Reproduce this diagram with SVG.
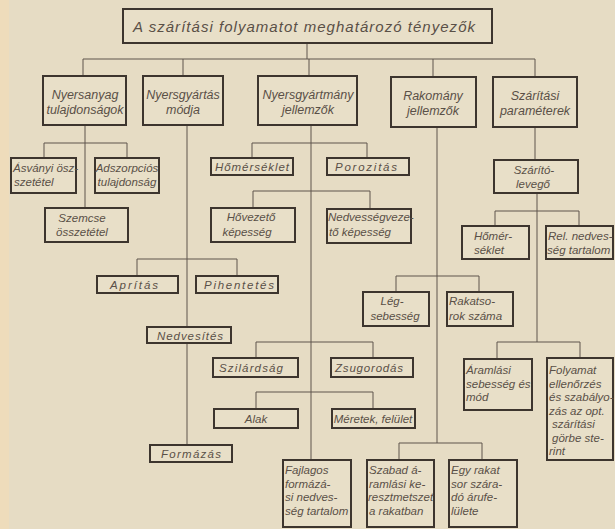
<svg xmlns="http://www.w3.org/2000/svg" width="615" height="529" viewBox="0 0 615 529">
<style>
.bx{fill:#e8dfc8;stroke:#3d352e;stroke-width:2}
.cn{fill:none;stroke:#5e554c;stroke-width:1}
text{font-family:"Liberation Sans","DejaVu Sans",sans-serif;font-style:italic;font-size:11.5px;fill:#5a5047}
.m{text-anchor:middle}
.h{font-size:12.5px}
.tt{font-size:15px}
</style>
<rect x="0" y="0" width="615" height="529" fill="#e6dcc4"/>
<rect x="0" y="0" width="9" height="529" fill="#eedcbb"/>
<g id="connectors" class="cn">
<path d="M307 43V59M83 59H535M83 59V76M183 59V76M309 59V76M433 59V77M535 59V77"/>
<path d="M85 125V208M44 143H127M44 143V158M127 143V158"/>
<path d="M187 125V327M187 343V445M137 259H237M137 259V276M237 259V276"/>
<path d="M311 125V460M252 143H367M252 143V158M367 143V158M253 191H370M253 191V208M370 191V209M256 342H373M256 342V358M373 342V358M256 392H373M256 392V409M373 392V409"/>
<path d="M437 127V443M396 276H479M396 276V292M479 276V292M399 443H482M399 443V459M482 443V459"/>
<path d="M535 127V160M537 193V342M495 211H579M495 211V226M579 211V226M497 342H580M497 342V359M580 342V358"/>
</g>
<g id="title"><rect class="bx" x="123" y="9" width="369" height="34"/><text class="tt" x="133" y="32" textLength="342" lengthAdjust="spacing">A szárítási folyamatot meghatározó tényezők</text></g>
<g id="n-nyersanyag"><rect class="bx" x="43" y="76" width="83" height="49"/><text class="h m" x="85" y="99">Nyersanyag</text><text class="h m" x="85" y="114">tulajdonságok</text></g>
<g id="n-nyersgyartas"><rect class="bx" x="143" y="76" width="80" height="49"/><text class="h m" x="183" y="99">Nyersgyártás</text><text class="h m" x="183" y="114">módja</text></g>
<g id="n-nyersgyartmany"><rect class="bx" x="258" y="76" width="99" height="49"/><text class="h m" x="308" y="99">Nyersgyártmány</text><text class="h m" x="308" y="114">jellemzők</text></g>
<g id="n-rakomany"><rect class="bx" x="391" y="77" width="85" height="50"/><text class="h m" x="433" y="100">Rakomány</text><text class="h m" x="433" y="115">jellemzők</text></g>
<g id="n-szaritasi"><rect class="bx" x="493" y="77" width="84" height="50"/><text class="h m" x="535" y="100">Szárítási</text><text class="h m" x="535" y="115">paraméterek</text></g>
<g id="n-asvanyi"><rect class="bx" x="11" y="158" width="65" height="35"/><text x="13" y="172">Ásványi ösz-</text><text x="14" y="186">szetétel</text></g>
<g id="n-adszorpcios"><rect class="bx" x="95" y="158" width="64" height="35"/><text class="m" x="127" y="172">Adszorpciós</text><text class="m" x="127" y="186">tulajdonság</text></g>
<g id="n-szemcse"><rect class="bx" x="45" y="208" width="83" height="34"/><text class="m" x="82" y="222">Szemcse</text><text class="m" x="82" y="236">összetétel</text></g>
<g id="n-homerseklet1"><rect class="bx" x="211" y="158" width="82" height="17"/><text class="m" x="252" y="171" textLength="74" lengthAdjust="spacing">Hőmérséklet</text></g>
<g id="n-porozitas"><rect class="bx" x="327" y="158" width="82" height="17"/><text class="m" x="366" y="171" textLength="62" lengthAdjust="spacing">Porozitás</text></g>
<g id="n-hovezeto"><rect class="bx" x="211" y="208" width="84" height="34"/><text class="m" x="251" y="221">Hővezető</text><text class="m" x="247" y="236">képesség</text></g>
<g id="n-nedvessegvezeto"><rect class="bx" x="327" y="209" width="84" height="34"/><text x="328" y="221">Nedvességveze-</text><text x="329" y="236">tő képesség</text></g>
<g id="n-szaritolevego"><rect class="bx" x="494" y="160" width="84" height="33"/><text class="m" x="534" y="174">Szárító-</text><text class="m" x="533" y="188">levegő</text></g>
<g id="n-homerseklet2"><rect class="bx" x="462" y="226" width="67" height="33"/><text class="m" x="493" y="240">Hőmér-</text><text class="m" x="489" y="254">séklet</text></g>
<g id="n-relnedv"><rect class="bx" x="546" y="226" width="67" height="33"/><text x="548" y="240">Rel. nedves-</text><text x="547" y="254">ség tartalom</text></g>
<g id="n-apritas"><rect class="bx" x="97" y="276" width="81" height="17"/><text class="m" x="134" y="289" textLength="48" lengthAdjust="spacing">Aprítás</text></g>
<g id="n-pihentetes"><rect class="bx" x="196" y="276" width="82" height="17"/><text class="m" x="239" y="289" textLength="70" lengthAdjust="spacing">Pihentetés</text></g>
<g id="n-legsebesseg"><rect class="bx" x="363" y="292" width="66" height="34"/><text class="m" x="392" y="305">Lég-</text><text class="m" x="395" y="320">sebesség</text></g>
<g id="n-rakatsorok"><rect class="bx" x="447" y="292" width="66" height="34"/><text x="449" y="305">Rakatso-</text><text x="449" y="320">rok száma</text></g>
<g id="n-nedvesites"><rect class="bx" x="147" y="327" width="84" height="16"/><text class="m" x="190" y="340" textLength="66" lengthAdjust="spacing">Nedvesítés</text></g>
<g id="n-szilardsag"><rect class="bx" x="213" y="358" width="85" height="19"/><text class="m" x="251" y="372" textLength="64" lengthAdjust="spacing">Szilárdság</text></g>
<g id="n-zsugorodas"><rect class="bx" x="331" y="358" width="82" height="19"/><text class="m" x="369" y="372" textLength="68" lengthAdjust="spacing">Zsugorodás</text></g>
<g id="n-alak"><rect class="bx" x="214" y="409" width="84" height="19"/><text class="m" x="256" y="423">Alak</text></g>
<g id="n-meretek"><rect class="bx" x="332" y="409" width="83" height="19"/><text class="m" x="373" y="423">Méretek, felület</text></g>
<g id="n-formazas"><rect class="bx" x="150" y="445" width="82" height="17"/><text class="m" x="191" y="458" textLength="60" lengthAdjust="spacing">Formázás</text></g>
<g id="n-aramlasi"><rect class="bx" x="464" y="359" width="68" height="51"/><text x="466" y="374">Áramlási</text><text x="466" y="388">sebesség és</text><text x="466" y="401">mód</text></g>
<g id="n-folyamat"><rect class="bx" x="547" y="358" width="66" height="102"/><text x="549" y="374">Folyamat</text><text x="549" y="388">ellenőrzés</text><text x="549" y="401">és szabályo-</text><text x="549" y="415">zás az opt.</text><text x="552" y="428">szárítási</text><text x="552" y="442">görbe ste-</text><text x="549" y="455">rint</text></g>
<g id="n-fajlagos"><rect class="bx" x="283" y="460" width="68" height="67"/><text x="285" y="474">Fajlagos</text><text x="285" y="488">formázá-</text><text x="285" y="501">si nedves-</text><text x="285" y="515">ség tartalom</text></g>
<g id="n-szabad"><rect class="bx" x="367" y="460" width="67" height="67"/><text x="369" y="474">Szabad á-</text><text x="369" y="488">ramlási ke-</text><text x="368" y="501">resztmetszet</text><text x="369" y="515">a rakatban</text></g>
<g id="n-egyrakat"><rect class="bx" x="449" y="460" width="68" height="67"/><text x="451" y="474">Egy rakat</text><text x="451" y="488">sor szára-</text><text x="451" y="501">dó árufe-</text><text x="451" y="515">lülete</text></g>
</svg>
